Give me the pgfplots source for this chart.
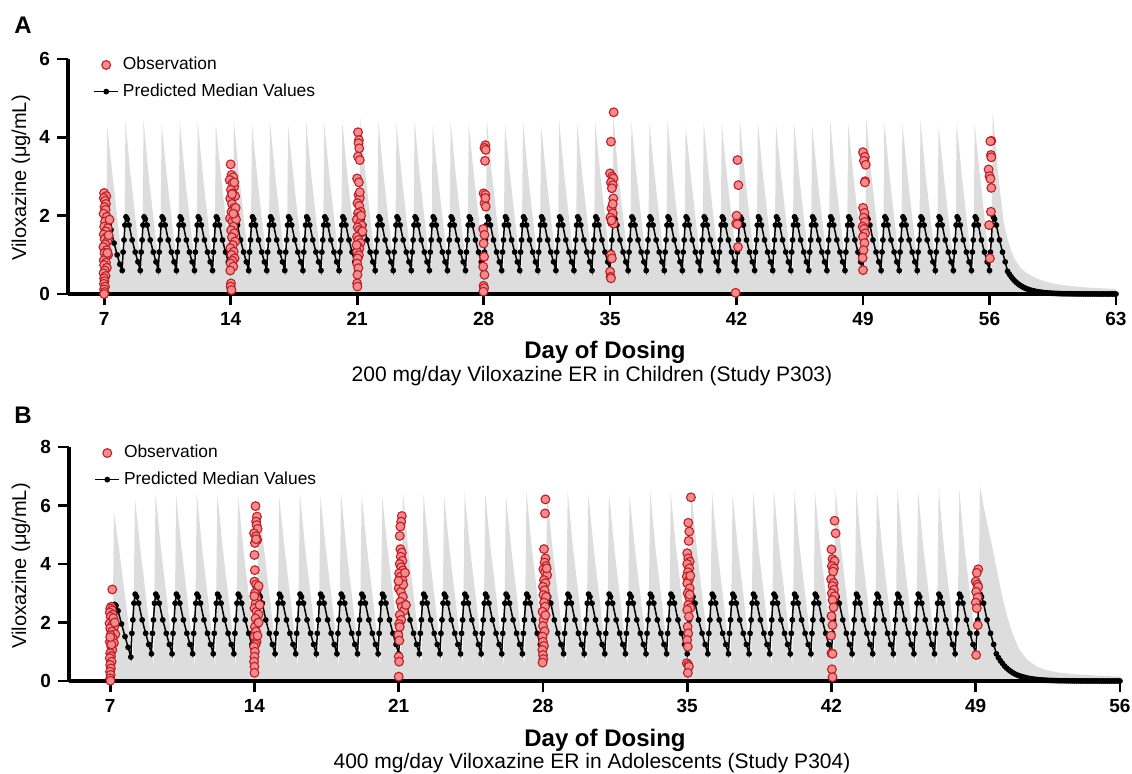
\documentclass[border=0pt]{standalone}
\usepackage{pgfplots}
\pgfplotsset{compat=1.18}
\usepackage{fontspec}
\setmainfont{Liberation Sans}
\definecolor{bandgray}{RGB}{221,221,221}
\definecolor{obsfill}{RGB}{242,140,140}
\definecolor{obsedge}{RGB}{190,30,40}
\pgfplotsset{
  pkaxis/.style={
    scale only axis,
    axis on top,
    axis x line*=bottom, axis y line*=left,
    axis line style={line width=1.6pt},
    tick align=outside,
    major tick length=5.5pt,
    tick style={line width=1.4pt, black},
    ymin=0, xmin=5,
    clip=false,
    /pgf/number format/assume math mode=true,
    ticklabel style={font=\fontsize{9.5}{11}\selectfont\bfseries},
    legend image code/.code={\draw[mark repeat=2,mark phase=2,##1] plot coordinates {(0pt,0pt)(6pt,0pt)(12pt,0pt)};},
    legend style={draw=none, fill=none, anchor=north west, font=\fontsize{8.7}{10}\selectfont, row sep=1.5pt, inner sep=1pt},
    legend cell align=left,
  },
  obs/.style={only marks, mark=*, mark size=2.2pt, mark options={fill=obsfill, draw=obsedge, line width=0.55pt}},
  med/.style={black, line width=0.75pt, mark=*, mark size=1.05pt},
}
\begin{document}
\begin{tikzpicture}
\useasboundingbox (0,0) rectangle (566pt,-386.5pt);
% ---------------- Panel A ----------------
\begin{axis}[pkaxis, at={(34pt,-147pt)}, anchor=south west,
  width=524pt, height=117.5pt, xmax=63, ymax=6,
  xtick={7,14,21,28,35,42,49,56,63}, ytick={0,2,4,6},
  legend style={at={(axis description cs:0.022,1.035)}}]
\addlegendimage{obs}
\addlegendentry{Observation}
\addlegendimage{med}
\addlegendentry{Predicted Median Values}
\addplot[fill=bandgray, draw=none, forget plot] coordinates {
(7,0)(7.1,.45)(7.17,4.25)(7.45,3.1)(7.75,1.85)(7.98,.95)
(8.1,.45)(8.18,4.4)(8.45,3.1)(8.75,1.85)(8.98,.95)
(9.1,.45)(9.18,4.45)(9.45,3.1)(9.75,1.85)(9.98,.95)
(10.1,.45)(10.18,4.35)(10.45,3.1)(10.75,1.85)(10.98,.95)
(11.1,.45)(11.18,4.45)(11.45,3.1)(11.75,1.85)(11.98,.95)
(12.1,.45)(12.18,4.4)(12.45,3.1)(12.75,1.85)(12.98,.95)
(13.1,.45)(13.18,4.35)(13.45,3.1)(13.75,1.85)(13.98,.95)
(14.1,.45)(14.18,4.45)(14.45,3.1)(14.75,1.85)(14.98,.95)
(15.1,.45)(15.18,4.35)(15.45,3.1)(15.75,1.85)(15.98,.95)
(16.1,.45)(16.18,4.4)(16.45,3.1)(16.75,1.85)(16.98,.95)
(17.1,.45)(17.18,4.3)(17.45,3.1)(17.75,1.85)(17.98,.95)
(18.1,.45)(18.18,4.4)(18.45,3.1)(18.75,1.85)(18.98,.95)
(19.1,.45)(19.18,4.35)(19.45,3.1)(19.75,1.85)(19.98,.95)
(20.1,.45)(20.18,4.4)(20.45,3.1)(20.75,1.85)(20.98,.95)
(21.1,.45)(21.18,4.5)(21.45,3.1)(21.75,1.85)(21.98,.95)
(22.1,.45)(22.18,4.4)(22.45,3.1)(22.75,1.85)(22.98,.95)
(23.1,.45)(23.18,4.35)(23.45,3.1)(23.75,1.85)(23.98,.95)
(24.1,.45)(24.18,4.45)(24.45,3.1)(24.75,1.85)(24.98,.95)
(25.1,.45)(25.18,4.3)(25.45,3.1)(25.75,1.85)(25.98,.95)
(26.1,.45)(26.18,4.4)(26.45,3.1)(26.75,1.85)(26.98,.95)
(27.1,.45)(27.18,4.35)(27.45,3.1)(27.75,1.85)(27.98,.95)
(28.1,.45)(28.18,4.45)(28.45,3.1)(28.75,1.85)(28.98,.95)
(29.1,.45)(29.18,4.35)(29.45,3.1)(29.75,1.85)(29.98,.95)
(30.1,.45)(30.18,4.4)(30.45,3.1)(30.75,1.85)(30.98,.95)
(31.1,.45)(31.18,4.3)(31.45,3.1)(31.75,1.85)(31.98,.95)
(32.1,.45)(32.18,4.45)(32.45,3.1)(32.75,1.85)(32.98,.95)
(33.1,.45)(33.18,4.35)(33.45,3.1)(33.75,1.85)(33.98,.95)
(34.1,.45)(34.18,4.4)(34.45,3.1)(34.75,1.85)(34.98,.95)
(35.1,.45)(35.18,4.55)(35.45,3.1)(35.75,1.85)(35.98,.95)
(36.1,.45)(36.18,4.4)(36.45,3.1)(36.75,1.85)(36.98,.95)
(37.1,.45)(37.18,4.35)(37.45,3.1)(37.75,1.85)(37.98,.95)
(38.1,.45)(38.18,4.45)(38.45,3.1)(38.75,1.85)(38.98,.95)
(39.1,.45)(39.18,4.3)(39.45,3.1)(39.75,1.85)(39.98,.95)
(40.1,.45)(40.18,4.4)(40.45,3.1)(40.75,1.85)(40.98,.95)
(41.1,.45)(41.18,4.35)(41.45,3.1)(41.75,1.85)(41.98,.95)
(42.1,.45)(42.18,4.45)(42.45,3.1)(42.75,1.85)(42.98,.95)
(43.1,.45)(43.18,4.4)(43.45,3.1)(43.75,1.85)(43.98,.95)
(44.1,.45)(44.18,4.35)(44.45,3.1)(44.75,1.85)(44.98,.95)
(45.1,.45)(45.18,4.4)(45.45,3.1)(45.75,1.85)(45.98,.95)
(46.1,.45)(46.18,4.3)(46.45,3.1)(46.75,1.85)(46.98,.95)
(47.1,.45)(47.18,4.45)(47.45,3.1)(47.75,1.85)(47.98,.95)
(48.1,.45)(48.18,4.35)(48.45,3.1)(48.75,1.85)(48.98,.95)
(49.1,.45)(49.18,4.5)(49.45,3.1)(49.75,1.85)(49.98,.95)
(50.1,.45)(50.18,4.4)(50.45,3.1)(50.75,1.85)(50.98,.95)
(51.1,.45)(51.18,4.35)(51.45,3.1)(51.75,1.85)(51.98,.95)
(52.1,.45)(52.18,4.45)(52.45,3.1)(52.75,1.85)(52.98,.95)
(53.1,.45)(53.18,4.3)(53.45,3.1)(53.75,1.85)(53.98,.95)
(54.1,.45)(54.18,4.4)(54.45,3.1)(54.75,1.85)(54.98,.95)
(55.1,.45)(55.18,4.35)(55.45,3.1)(55.75,1.85)(55.98,.95)
(56.1,.45)(56.18,4.65)(56.3,4.0)(56.45,3.2)(56.6,2.55)(56.8,1.8)(57,1.4)(57.2,1.1)(57.4,.88)(57.7,.68)(58,.55)(58.5,.42)(59,.33)(59.5,.27)(60,.23)(61,.18)(62,.15)(63,.13)
} \closedcycle;
\addplot[med, forget plot] coordinates {
(7,0)(7.05,.9)(7.1,1.35)(7.15,1.72)(7.21,1.8)(7.28,1.76)(7.38,1.64)(7.55,1.3)(7.72,1.0)(7.87,.76)
(8,.6)(8.05,1.07)(8.1,1.38)(8.15,1.76)(8.21,1.97)(8.28,1.91)(8.38,1.76)(8.55,1.38)(8.72,1.07)(8.87,.82)
(9,.6)(9.05,1.07)(9.1,1.38)(9.15,1.76)(9.21,1.97)(9.28,1.91)(9.38,1.76)(9.55,1.38)(9.72,1.07)(9.87,.82)
(10,.6)(10.05,1.07)(10.1,1.38)(10.15,1.76)(10.21,1.97)(10.28,1.91)(10.38,1.76)(10.55,1.38)(10.72,1.07)(10.87,.82)
(11,.6)(11.05,1.07)(11.1,1.38)(11.15,1.76)(11.21,1.97)(11.28,1.91)(11.38,1.76)(11.55,1.38)(11.72,1.07)(11.87,.82)
(12,.6)(12.05,1.07)(12.1,1.38)(12.15,1.76)(12.21,1.97)(12.28,1.91)(12.38,1.76)(12.55,1.38)(12.72,1.07)(12.87,.82)
(13,.6)(13.05,1.07)(13.1,1.38)(13.15,1.76)(13.21,1.97)(13.28,1.91)(13.38,1.76)(13.55,1.38)(13.72,1.07)(13.87,.82)
(14,.6)(14.05,1.07)(14.1,1.38)(14.15,1.76)(14.21,1.97)(14.28,1.91)(14.38,1.76)(14.55,1.38)(14.72,1.07)(14.87,.82)
(15,.6)(15.05,1.07)(15.1,1.38)(15.15,1.76)(15.21,1.97)(15.28,1.91)(15.38,1.76)(15.55,1.38)(15.72,1.07)(15.87,.82)
(16,.6)(16.05,1.07)(16.1,1.38)(16.15,1.76)(16.21,1.97)(16.28,1.91)(16.38,1.76)(16.55,1.38)(16.72,1.07)(16.87,.82)
(17,.6)(17.05,1.07)(17.1,1.38)(17.15,1.76)(17.21,1.97)(17.28,1.91)(17.38,1.76)(17.55,1.38)(17.72,1.07)(17.87,.82)
(18,.6)(18.05,1.07)(18.1,1.38)(18.15,1.76)(18.21,1.97)(18.28,1.91)(18.38,1.76)(18.55,1.38)(18.72,1.07)(18.87,.82)
(19,.6)(19.05,1.07)(19.1,1.38)(19.15,1.76)(19.21,1.97)(19.28,1.91)(19.38,1.76)(19.55,1.38)(19.72,1.07)(19.87,.82)
(20,.6)(20.05,1.07)(20.1,1.38)(20.15,1.76)(20.21,1.97)(20.28,1.91)(20.38,1.76)(20.55,1.38)(20.72,1.07)(20.87,.82)
(21,.6)(21.05,1.07)(21.1,1.38)(21.15,1.76)(21.21,1.97)(21.28,1.91)(21.38,1.76)(21.55,1.38)(21.72,1.07)(21.87,.82)
(22,.6)(22.05,1.07)(22.1,1.38)(22.15,1.76)(22.21,1.97)(22.28,1.91)(22.38,1.76)(22.55,1.38)(22.72,1.07)(22.87,.82)
(23,.6)(23.05,1.07)(23.1,1.38)(23.15,1.76)(23.21,1.97)(23.28,1.91)(23.38,1.76)(23.55,1.38)(23.72,1.07)(23.87,.82)
(24,.6)(24.05,1.07)(24.1,1.38)(24.15,1.76)(24.21,1.97)(24.28,1.91)(24.38,1.76)(24.55,1.38)(24.72,1.07)(24.87,.82)
(25,.6)(25.05,1.07)(25.1,1.38)(25.15,1.76)(25.21,1.97)(25.28,1.91)(25.38,1.76)(25.55,1.38)(25.72,1.07)(25.87,.82)
(26,.6)(26.05,1.07)(26.1,1.38)(26.15,1.76)(26.21,1.97)(26.28,1.91)(26.38,1.76)(26.55,1.38)(26.72,1.07)(26.87,.82)
(27,.6)(27.05,1.07)(27.1,1.38)(27.15,1.76)(27.21,1.97)(27.28,1.91)(27.38,1.76)(27.55,1.38)(27.72,1.07)(27.87,.82)
(28,.6)(28.05,1.07)(28.1,1.38)(28.15,1.76)(28.21,1.97)(28.28,1.91)(28.38,1.76)(28.55,1.38)(28.72,1.07)(28.87,.82)
(29,.6)(29.05,1.07)(29.1,1.38)(29.15,1.76)(29.21,1.97)(29.28,1.91)(29.38,1.76)(29.55,1.38)(29.72,1.07)(29.87,.82)
(30,.6)(30.05,1.07)(30.1,1.38)(30.15,1.76)(30.21,1.97)(30.28,1.91)(30.38,1.76)(30.55,1.38)(30.72,1.07)(30.87,.82)
(31,.6)(31.05,1.07)(31.1,1.38)(31.15,1.76)(31.21,1.97)(31.28,1.91)(31.38,1.76)(31.55,1.38)(31.72,1.07)(31.87,.82)
(32,.6)(32.05,1.07)(32.1,1.38)(32.15,1.76)(32.21,1.97)(32.28,1.91)(32.38,1.76)(32.55,1.38)(32.72,1.07)(32.87,.82)
(33,.6)(33.05,1.07)(33.1,1.38)(33.15,1.76)(33.21,1.97)(33.28,1.91)(33.38,1.76)(33.55,1.38)(33.72,1.07)(33.87,.82)
(34,.6)(34.05,1.07)(34.1,1.38)(34.15,1.76)(34.21,1.97)(34.28,1.91)(34.38,1.76)(34.55,1.38)(34.72,1.07)(34.87,.82)
(35,.6)(35.05,1.07)(35.1,1.38)(35.15,1.76)(35.21,1.97)(35.28,1.91)(35.38,1.76)(35.55,1.38)(35.72,1.07)(35.87,.82)
(36,.6)(36.05,1.07)(36.1,1.38)(36.15,1.76)(36.21,1.97)(36.28,1.91)(36.38,1.76)(36.55,1.38)(36.72,1.07)(36.87,.82)
(37,.6)(37.05,1.07)(37.1,1.38)(37.15,1.76)(37.21,1.97)(37.28,1.91)(37.38,1.76)(37.55,1.38)(37.72,1.07)(37.87,.82)
(38,.6)(38.05,1.07)(38.1,1.38)(38.15,1.76)(38.21,1.97)(38.28,1.91)(38.38,1.76)(38.55,1.38)(38.72,1.07)(38.87,.82)
(39,.6)(39.05,1.07)(39.1,1.38)(39.15,1.76)(39.21,1.97)(39.28,1.91)(39.38,1.76)(39.55,1.38)(39.72,1.07)(39.87,.82)
(40,.6)(40.05,1.07)(40.1,1.38)(40.15,1.76)(40.21,1.97)(40.28,1.91)(40.38,1.76)(40.55,1.38)(40.72,1.07)(40.87,.82)
(41,.6)(41.05,1.07)(41.1,1.38)(41.15,1.76)(41.21,1.97)(41.28,1.91)(41.38,1.76)(41.55,1.38)(41.72,1.07)(41.87,.82)
(42,.6)(42.05,1.07)(42.1,1.38)(42.15,1.76)(42.21,1.97)(42.28,1.91)(42.38,1.76)(42.55,1.38)(42.72,1.07)(42.87,.82)
(43,.6)(43.05,1.07)(43.1,1.38)(43.15,1.76)(43.21,1.97)(43.28,1.91)(43.38,1.76)(43.55,1.38)(43.72,1.07)(43.87,.82)
(44,.6)(44.05,1.07)(44.1,1.38)(44.15,1.76)(44.21,1.97)(44.28,1.91)(44.38,1.76)(44.55,1.38)(44.72,1.07)(44.87,.82)
(45,.6)(45.05,1.07)(45.1,1.38)(45.15,1.76)(45.21,1.97)(45.28,1.91)(45.38,1.76)(45.55,1.38)(45.72,1.07)(45.87,.82)
(46,.6)(46.05,1.07)(46.1,1.38)(46.15,1.76)(46.21,1.97)(46.28,1.91)(46.38,1.76)(46.55,1.38)(46.72,1.07)(46.87,.82)
(47,.6)(47.05,1.07)(47.1,1.38)(47.15,1.76)(47.21,1.97)(47.28,1.91)(47.38,1.76)(47.55,1.38)(47.72,1.07)(47.87,.82)
(48,.6)(48.05,1.07)(48.1,1.38)(48.15,1.76)(48.21,1.97)(48.28,1.91)(48.38,1.76)(48.55,1.38)(48.72,1.07)(48.87,.82)
(49,.6)(49.05,1.07)(49.1,1.38)(49.15,1.76)(49.21,1.97)(49.28,1.91)(49.38,1.76)(49.55,1.38)(49.72,1.07)(49.87,.82)
(50,.6)(50.05,1.07)(50.1,1.38)(50.15,1.76)(50.21,1.97)(50.28,1.91)(50.38,1.76)(50.55,1.38)(50.72,1.07)(50.87,.82)
(51,.6)(51.05,1.07)(51.1,1.38)(51.15,1.76)(51.21,1.97)(51.28,1.91)(51.38,1.76)(51.55,1.38)(51.72,1.07)(51.87,.82)
(52,.6)(52.05,1.07)(52.1,1.38)(52.15,1.76)(52.21,1.97)(52.28,1.91)(52.38,1.76)(52.55,1.38)(52.72,1.07)(52.87,.82)
(53,.6)(53.05,1.07)(53.1,1.38)(53.15,1.76)(53.21,1.97)(53.28,1.91)(53.38,1.76)(53.55,1.38)(53.72,1.07)(53.87,.82)
(54,.6)(54.05,1.07)(54.1,1.38)(54.15,1.76)(54.21,1.97)(54.28,1.91)(54.38,1.76)(54.55,1.38)(54.72,1.07)(54.87,.82)
(55,.6)(55.05,1.07)(55.1,1.38)(55.15,1.76)(55.21,1.97)(55.28,1.91)(55.38,1.76)(55.55,1.38)(55.72,1.07)(55.87,.82)
(56,.6)(56.05,1.07)(56.1,1.38)(56.15,1.76)(56.21,1.97)(56.28,1.91)(56.38,1.76)(56.55,1.38)(56.72,1.07)(56.87,.82)
(57,.58)(57.1,.505)(57.2,.44)(57.3,.383)(57.4,.333)(57.5,.29)(57.6,.252)(57.7,.22)(57.8,.191)(57.9,.166)
(58,.145)(58.1,.126)(58.2,.11)(58.3,.096)(58.4,.083)(58.5,.073)(58.6,.063)(58.7,.055)(58.8,.048)(58.9,.042)
(59,.036)(59.1,.032)(59.2,.027)(59.3,.024)(59.4,.021)(59.5,.018)(59.6,.016)(59.7,.014)(59.8,.012)(59.9,.01)
(60,.009)(60.1,.008)(60.2,.007)(60.3,.006)(60.4,.006)(60.5,.005)(60.6,.005)(60.7,.004)(60.8,.004)(60.9,.004)
(61,.003)(61.1,.003)(61.2,.003)(61.3,.003)(61.4,.002)(61.5,.002)(61.6,.002)(61.7,.002)(61.8,.002)(61.9,.002)
(62,.002)(62.1,.001)(62.2,.001)(62.3,.001)(62.4,.001)(62.5,.001)(62.6,.001)(62.7,.001)(62.8,.001)(62.9,.001)(63,.001)
};
\addplot[obs, forget plot] coordinates {
(7.0,2.58)(7.12,2.5)(6.98,2.45)(7.05,2.38)(7.1,2.3)(7.02,2.22)(7.08,2.15)(6.97,2.05)(7.15,1.97)(7.05,1.85)
(7.0,1.72)(7.2,1.68)(7.1,1.6)(6.98,1.52)(7.12,1.45)(7.03,1.4)(7.18,1.34)(7.06,1.27)(6.96,1.2)(7.14,1.12)
(7.02,1.05)(7.22,1.0)(7.08,.93)(6.98,.86)(7.1,.8)(7.0,.74)(7.15,.67)(7.04,.6)(6.97,.53)(7.08,.46)
(7.0,.4)(7.02,.33)(6.99,.26)(7.05,.19)(7.0,.12)(7.02,.05)(7.0,0)(7.25,1.5)(7.3,1.9)(7.18,1.05)
(14.0,3.31)(14.05,3.04)(14.15,2.98)(13.95,2.91)(14.1,2.83)(14.2,2.74)(14.02,2.66)(14.12,2.57)(14.25,2.5)(13.98,2.44)
(14.08,2.3)(14.18,2.19)(14.05,2.1)(14.22,2.02)(13.97,1.93)(14.1,1.85)(14.3,1.9)(14.15,1.72)(14.03,1.63)(14.2,1.55)
(14.07,1.45)(14.25,1.34)(14.12,1.25)(13.99,1.17)(14.17,1.08)(14.05,1.0)(14.22,.91)(14.1,.85)(14.0,.78)(14.15,.7)
(13.98,.6)(14.02,.27)(14.0,.19)(14.05,.1)(14.28,2.2)(14.08,2.55)(14.2,2.85)(14.15,2.05)
(21.05,4.13)(21.1,3.93)(21.08,3.85)(21.12,3.72)(21.05,3.51)(21.15,3.42)(21.0,2.95)(21.1,2.85)(21.08,2.53)(21.15,2.45)
(21.02,2.32)(21.12,2.25)(21.2,2.1)(21.05,2.06)(21.1,1.97)(20.98,1.9)(21.15,1.8)(21.25,1.75)(21.03,1.7)(21.12,1.63)
(21.2,1.55)(21.0,1.46)(21.08,1.38)(21.18,1.3)(21.05,1.21)(21.12,1.15)(21.0,1.08)(21.1,.99)(21.03,.91)(21.0,.78)
(21.07,.66)(21.02,.49)(21.0,.27)(21.02,.19)(21.3,1.6)(21.22,2.0)(20.97,1.25)(21.15,2.6)
(28.1,3.8)(28.05,3.73)(28.12,3.68)(28.08,3.4)(28.0,2.57)(28.1,2.53)(28.05,2.32)(28.12,2.23)(27.98,1.66)(28.05,1.51)
(28.0,1.29)(28.03,.95)(27.98,.7)(28.05,.49)(28.0,.21)(28.03,.15)(27.99,.06)(28.1,2.45)
(35.2,4.64)(35.05,3.89)(35.0,3.08)(35.12,3.0)(35.18,2.95)(35.05,2.85)(35.15,2.78)(35.1,2.7)(35.18,2.44)(35.08,2.19)
(35.15,2.06)(35.02,1.95)(35.1,1.83)(35.2,1.8)(35.05,1.0)(35.1,.91)(35.0,.57)(35.03,.44)(35.05,.4)(35.15,2.3)(35.08,1.88)
(42.05,3.42)(42.1,2.78)(42.0,2.0)(41.98,1.8)(42.08,1.2)(41.95,.03)(42.05,1.78)
(49.0,3.62)(49.1,3.5)(49.05,3.4)(49.15,3.3)(49.12,2.88)(49.0,2.2)(49.08,2.07)(49.03,1.95)(49.1,1.84)(48.98,1.72)
(49.05,1.66)(49.12,1.55)(49.0,1.46)(49.08,1.3)(49.03,1.12)(48.98,.92)(49.0,.61)(49.1,2.85)
(56.1,3.91)(56.05,3.9)(56.08,3.55)(56.1,3.49)(55.95,3.18)(56.0,3.01)(56.05,2.94)(56.1,2.71)(56.08,2.1)(55.98,1.76)(56.02,.91)
};
\end{axis}
% ---------------- Panel B ----------------
\begin{axis}[pkaxis, at={(34.5pt,-340.5pt)}, anchor=south west,
  width=525.5pt, height=117pt, xmax=56, ymax=8,
  xtick={7,14,21,28,35,42,49,56}, ytick={0,2,4,6,8},
  legend style={at={(axis description cs:0.022,1.035)}}]
\addlegendimage{obs}
\addlegendentry{Observation}
\addlegendimage{med}
\addlegendentry{Predicted Median Values}
\addplot[fill=bandgray, draw=none, forget plot] coordinates {
(7,0)(7.1,.45)(7.18,5.8)(7.45,4.4)(7.75,2.75)(7.98,1.4)
(8.1,.45)(8.2,6.25)(8.45,4.6)(8.75,2.8)(8.98,1.4)
(9.1,.45)(9.2,6.45)(9.45,4.6)(9.75,2.8)(9.98,1.4)
(10.1,.45)(10.2,6.35)(10.45,4.6)(10.75,2.8)(10.98,1.4)
(11.1,.45)(11.2,6.45)(11.45,4.6)(11.75,2.8)(11.98,1.4)
(12.1,.45)(12.2,6.4)(12.45,4.6)(12.75,2.8)(12.98,1.4)
(13.1,.45)(13.2,6.35)(13.45,4.6)(13.75,2.8)(13.98,1.4)
(14.1,.45)(14.2,6.4)(14.45,4.6)(14.75,2.8)(14.98,1.4)
(15.1,.45)(15.2,6.3)(15.45,4.6)(15.75,2.8)(15.98,1.4)
(16.1,.45)(16.2,6.45)(16.45,4.6)(16.75,2.8)(16.98,1.4)
(17.1,.45)(17.2,6.35)(17.45,4.6)(17.75,2.8)(17.98,1.4)
(18.1,.45)(18.2,6.45)(18.45,4.6)(18.75,2.8)(18.98,1.4)
(19.1,.45)(19.2,6.4)(19.45,4.6)(19.75,2.8)(19.98,1.4)
(20.1,.45)(20.2,6.3)(20.45,4.6)(20.75,2.8)(20.98,1.4)
(21.1,.45)(21.2,6.5)(21.45,4.6)(21.75,2.8)(21.98,1.4)
(22.1,.45)(22.2,6.4)(22.45,4.6)(22.75,2.8)(22.98,1.4)
(23.1,.45)(23.2,6.35)(23.45,4.6)(23.75,2.8)(23.98,1.4)
(24.1,.45)(24.2,6.45)(24.45,4.6)(24.75,2.8)(24.98,1.4)
(25.1,.45)(25.2,6.4)(25.45,4.6)(25.75,2.8)(25.98,1.4)
(26.1,.45)(26.2,6.35)(26.45,4.6)(26.75,2.8)(26.98,1.4)
(27.1,.45)(27.2,6.5)(27.45,4.6)(27.75,2.8)(27.98,1.4)
(28.1,.45)(28.2,6.45)(28.45,4.6)(28.75,2.8)(28.98,1.4)
(29.1,.45)(29.2,6.5)(29.45,4.6)(29.75,2.8)(29.98,1.4)
(30.1,.45)(30.2,6.4)(30.45,4.6)(30.75,2.8)(30.98,1.4)
(31.1,.45)(31.2,6.45)(31.45,4.6)(31.75,2.8)(31.98,1.4)
(32.1,.45)(32.2,6.35)(32.45,4.6)(32.75,2.8)(32.98,1.4)
(33.1,.45)(33.2,6.5)(33.45,4.6)(33.75,2.8)(33.98,1.4)
(34.1,.45)(34.2,6.45)(34.45,4.6)(34.75,2.8)(34.98,1.4)
(35.1,.45)(35.2,6.55)(35.45,4.6)(35.75,2.8)(35.98,1.4)
(36.1,.45)(36.2,6.5)(36.45,4.6)(36.75,2.8)(36.98,1.4)
(37.1,.45)(37.2,6.4)(37.45,4.6)(37.75,2.8)(37.98,1.4)
(38.1,.45)(38.2,6.45)(38.45,4.6)(38.75,2.8)(38.98,1.4)
(39.1,.45)(39.2,6.55)(39.45,4.6)(39.75,2.8)(39.98,1.4)
(40.1,.45)(40.2,6.5)(40.45,4.6)(40.75,2.8)(40.98,1.4)
(41.1,.45)(41.2,6.45)(41.45,4.6)(41.75,2.8)(41.98,1.4)
(42.1,.45)(42.2,6.6)(42.45,4.6)(42.75,2.8)(42.98,1.4)
(43.1,.45)(43.2,6.5)(43.45,4.6)(43.75,2.8)(43.98,1.4)
(44.1,.45)(44.2,6.55)(44.45,4.6)(44.75,2.8)(44.98,1.4)
(45.1,.45)(45.2,6.6)(45.45,4.6)(45.75,2.8)(45.98,1.4)
(46.1,.45)(46.2,6.5)(46.45,4.6)(46.75,2.8)(46.98,1.4)
(47.1,.45)(47.2,6.6)(47.45,4.6)(47.75,2.8)(47.98,1.4)
(48.1,.45)(48.2,6.55)(48.45,4.6)(48.75,2.8)(48.98,1.4)
(49.1,.45)(49.2,6.7)(49.35,6.1)(49.55,5.4)(49.8,4.6)(50.05,3.7)(50.3,2.85)(50.55,2.15)(50.8,1.6)(51.1,1.1)(51.5,.72)(52,.48)(52.5,.36)(53,.29)(54,.22)(55,.18)(56,.15)
} \closedcycle;
\addplot[med, forget plot] coordinates {
(7,0)(7.05,1.0)(7.1,1.7)(7.15,2.3)(7.21,2.62)(7.28,2.58)(7.38,2.4)(7.55,1.95)(7.72,1.52)(7.87,1.15)
(8,.82)(8.05,1.63)(8.1,2.09)(8.15,2.66)(8.21,2.97)(8.28,2.88)(8.38,2.66)(8.55,2.09)(8.72,1.63)(8.87,1.25)
(9,.93)(9.05,1.63)(9.1,2.09)(9.15,2.66)(9.21,2.97)(9.28,2.88)(9.38,2.66)(9.55,2.09)(9.72,1.63)(9.87,1.25)
(10,.93)(10.05,1.63)(10.1,2.09)(10.15,2.66)(10.21,2.97)(10.28,2.88)(10.38,2.66)(10.55,2.09)(10.72,1.63)(10.87,1.25)
(11,.93)(11.05,1.63)(11.1,2.09)(11.15,2.66)(11.21,2.97)(11.28,2.88)(11.38,2.66)(11.55,2.09)(11.72,1.63)(11.87,1.25)
(12,.93)(12.05,1.63)(12.1,2.09)(12.15,2.66)(12.21,2.97)(12.28,2.88)(12.38,2.66)(12.55,2.09)(12.72,1.63)(12.87,1.25)
(13,.93)(13.05,1.63)(13.1,2.09)(13.15,2.66)(13.21,2.97)(13.28,2.88)(13.38,2.66)(13.55,2.09)(13.72,1.63)(13.87,1.25)
(14,.93)(14.05,1.63)(14.1,2.09)(14.15,2.66)(14.21,2.97)(14.28,2.88)(14.38,2.66)(14.55,2.09)(14.72,1.63)(14.87,1.25)
(15,.93)(15.05,1.63)(15.1,2.09)(15.15,2.66)(15.21,2.97)(15.28,2.88)(15.38,2.66)(15.55,2.09)(15.72,1.63)(15.87,1.25)
(16,.93)(16.05,1.63)(16.1,2.09)(16.15,2.66)(16.21,2.97)(16.28,2.88)(16.38,2.66)(16.55,2.09)(16.72,1.63)(16.87,1.25)
(17,.93)(17.05,1.63)(17.1,2.09)(17.15,2.66)(17.21,2.97)(17.28,2.88)(17.38,2.66)(17.55,2.09)(17.72,1.63)(17.87,1.25)
(18,.93)(18.05,1.63)(18.1,2.09)(18.15,2.66)(18.21,2.97)(18.28,2.88)(18.38,2.66)(18.55,2.09)(18.72,1.63)(18.87,1.25)
(19,.93)(19.05,1.63)(19.1,2.09)(19.15,2.66)(19.21,2.97)(19.28,2.88)(19.38,2.66)(19.55,2.09)(19.72,1.63)(19.87,1.25)
(20,.93)(20.05,1.63)(20.1,2.09)(20.15,2.66)(20.21,2.97)(20.28,2.88)(20.38,2.66)(20.55,2.09)(20.72,1.63)(20.87,1.25)
(21,.93)(21.05,1.63)(21.1,2.09)(21.15,2.66)(21.21,2.97)(21.28,2.88)(21.38,2.66)(21.55,2.09)(21.72,1.63)(21.87,1.25)
(22,.93)(22.05,1.63)(22.1,2.09)(22.15,2.66)(22.21,2.97)(22.28,2.88)(22.38,2.66)(22.55,2.09)(22.72,1.63)(22.87,1.25)
(23,.93)(23.05,1.63)(23.1,2.09)(23.15,2.66)(23.21,2.97)(23.28,2.88)(23.38,2.66)(23.55,2.09)(23.72,1.63)(23.87,1.25)
(24,.93)(24.05,1.63)(24.1,2.09)(24.15,2.66)(24.21,2.97)(24.28,2.88)(24.38,2.66)(24.55,2.09)(24.72,1.63)(24.87,1.25)
(25,.93)(25.05,1.63)(25.1,2.09)(25.15,2.66)(25.21,2.97)(25.28,2.88)(25.38,2.66)(25.55,2.09)(25.72,1.63)(25.87,1.25)
(26,.93)(26.05,1.63)(26.1,2.09)(26.15,2.66)(26.21,2.97)(26.28,2.88)(26.38,2.66)(26.55,2.09)(26.72,1.63)(26.87,1.25)
(27,.93)(27.05,1.63)(27.1,2.09)(27.15,2.66)(27.21,2.97)(27.28,2.88)(27.38,2.66)(27.55,2.09)(27.72,1.63)(27.87,1.25)
(28,.93)(28.05,1.63)(28.1,2.09)(28.15,2.66)(28.21,2.97)(28.28,2.88)(28.38,2.66)(28.55,2.09)(28.72,1.63)(28.87,1.25)
(29,.93)(29.05,1.63)(29.1,2.09)(29.15,2.66)(29.21,2.97)(29.28,2.88)(29.38,2.66)(29.55,2.09)(29.72,1.63)(29.87,1.25)
(30,.93)(30.05,1.63)(30.1,2.09)(30.15,2.66)(30.21,2.97)(30.28,2.88)(30.38,2.66)(30.55,2.09)(30.72,1.63)(30.87,1.25)
(31,.93)(31.05,1.63)(31.1,2.09)(31.15,2.66)(31.21,2.97)(31.28,2.88)(31.38,2.66)(31.55,2.09)(31.72,1.63)(31.87,1.25)
(32,.93)(32.05,1.63)(32.1,2.09)(32.15,2.66)(32.21,2.97)(32.28,2.88)(32.38,2.66)(32.55,2.09)(32.72,1.63)(32.87,1.25)
(33,.93)(33.05,1.63)(33.1,2.09)(33.15,2.66)(33.21,2.97)(33.28,2.88)(33.38,2.66)(33.55,2.09)(33.72,1.63)(33.87,1.25)
(34,.93)(34.05,1.63)(34.1,2.09)(34.15,2.66)(34.21,2.97)(34.28,2.88)(34.38,2.66)(34.55,2.09)(34.72,1.63)(34.87,1.25)
(35,.93)(35.05,1.63)(35.1,2.09)(35.15,2.66)(35.21,2.97)(35.28,2.88)(35.38,2.66)(35.55,2.09)(35.72,1.63)(35.87,1.25)
(36,.93)(36.05,1.63)(36.1,2.09)(36.15,2.66)(36.21,2.97)(36.28,2.88)(36.38,2.66)(36.55,2.09)(36.72,1.63)(36.87,1.25)
(37,.93)(37.05,1.63)(37.1,2.09)(37.15,2.66)(37.21,2.97)(37.28,2.88)(37.38,2.66)(37.55,2.09)(37.72,1.63)(37.87,1.25)
(38,.93)(38.05,1.63)(38.1,2.09)(38.15,2.66)(38.21,2.97)(38.28,2.88)(38.38,2.66)(38.55,2.09)(38.72,1.63)(38.87,1.25)
(39,.93)(39.05,1.63)(39.1,2.09)(39.15,2.66)(39.21,2.97)(39.28,2.88)(39.38,2.66)(39.55,2.09)(39.72,1.63)(39.87,1.25)
(40,.93)(40.05,1.63)(40.1,2.09)(40.15,2.66)(40.21,2.97)(40.28,2.88)(40.38,2.66)(40.55,2.09)(40.72,1.63)(40.87,1.25)
(41,.93)(41.05,1.63)(41.1,2.09)(41.15,2.66)(41.21,2.97)(41.28,2.88)(41.38,2.66)(41.55,2.09)(41.72,1.63)(41.87,1.25)
(42,.93)(42.05,1.63)(42.1,2.09)(42.15,2.66)(42.21,2.97)(42.28,2.88)(42.38,2.66)(42.55,2.09)(42.72,1.63)(42.87,1.25)
(43,.93)(43.05,1.63)(43.1,2.09)(43.15,2.66)(43.21,2.97)(43.28,2.88)(43.38,2.66)(43.55,2.09)(43.72,1.63)(43.87,1.25)
(44,.93)(44.05,1.63)(44.1,2.09)(44.15,2.66)(44.21,2.97)(44.28,2.88)(44.38,2.66)(44.55,2.09)(44.72,1.63)(44.87,1.25)
(45,.93)(45.05,1.63)(45.1,2.09)(45.15,2.66)(45.21,2.97)(45.28,2.88)(45.38,2.66)(45.55,2.09)(45.72,1.63)(45.87,1.25)
(46,.93)(46.05,1.63)(46.1,2.09)(46.15,2.66)(46.21,2.97)(46.28,2.88)(46.38,2.66)(46.55,2.09)(46.72,1.63)(46.87,1.25)
(47,.93)(47.05,1.63)(47.1,2.09)(47.15,2.66)(47.21,2.97)(47.28,2.88)(47.38,2.66)(47.55,2.09)(47.72,1.63)(47.87,1.25)
(48,.93)(48.05,1.63)(48.1,2.09)(48.15,2.66)(48.21,2.97)(48.28,2.88)(48.38,2.66)(48.55,2.09)(48.72,1.63)(48.87,1.25)
(49,.93)(49.05,1.63)(49.1,2.09)(49.15,2.66)(49.21,2.97)(49.28,2.88)(49.38,2.66)(49.55,2.09)(49.72,1.63)(49.87,1.25)
(50,.93)(50.1,.8)(50.2,.69)(50.3,.6)(50.4,.51)(50.5,.44)(50.6,.38)(50.7,.33)(50.8,.28)(50.9,.24)
(51,.21)(51.1,.18)(51.2,.16)(51.3,.14)(51.4,.12)(51.5,.1)(51.6,.088)(51.7,.076)(51.8,.065)(51.9,.056)
(52,.049)(52.1,.042)(52.2,.036)(52.3,.031)(52.4,.027)(52.5,.023)(52.6,.02)(52.7,.017)(52.8,.015)(52.9,.013)
(53,.011)(53.1,.01)(53.2,.009)(53.3,.008)(53.4,.007)(53.5,.006)(53.6,.005)(53.7,.005)(53.8,.004)(53.9,.004)
(54,.003)(54.1,.003)(54.2,.003)(54.3,.003)(54.4,.002)(54.5,.002)(54.6,.002)(54.7,.002)(54.8,.002)(54.9,.002)
(55,.001)(55.1,.001)(55.2,.001)(55.3,.001)(55.4,.001)(55.5,.001)(55.6,.001)(55.7,.001)(55.8,.001)(55.9,.001)(56,.001)
};
\addplot[obs, forget plot] coordinates {
(7.1,3.13)(7.05,2.54)(7.0,2.48)(7.08,2.42)(6.98,2.34)(7.12,2.27)(7.02,2.2)(7.15,2.1)(7.05,2.03)(6.97,1.97)
(7.1,1.91)(7.2,1.87)(7.0,1.8)(7.08,1.69)(7.25,1.6)(7.02,1.57)(7.12,1.45)(6.98,1.34)(7.18,1.3)(7.05,1.17)
(7.1,1.06)(7.0,.95)(7.04,.85)(6.98,.78)(7.07,.66)(7.0,.55)(7.03,.43)(6.99,.32)(7.02,.21)(7.0,.09)
(7.01,.01)(7.15,2.15)(7.22,2.0)(7.06,1.25)(7.0,1.5)
(14.05,5.98)(14.12,5.62)(14.08,5.45)(14.1,5.33)(14.15,5.2)(13.98,5.05)(14.07,4.95)(14.13,4.82)(14.02,4.72)(14.0,4.31)
(14.02,3.79)(14.0,3.4)(14.08,3.3)(14.15,3.17)(14.02,3.0)(14.1,2.83)(14.05,2.66)(14.0,2.49)(14.1,2.37)(14.2,2.28)
(14.05,2.14)(14.15,1.97)(14.02,1.85)(14.08,1.69)(14.0,1.52)(14.1,1.34)(14.05,1.25)(13.98,1.17)(14.02,1.0)(14.0,.83)
(13.98,.66)(14.0,.49)(14.0,.28)(14.2,3.25)(14.25,2.6)(14.2,2.0)(14.15,1.55)(14.08,4.85)(13.99,2.9)
(21.15,5.64)(21.12,5.45)(21.08,5.28)(21.05,4.96)(21.08,4.51)(21.15,4.39)(21.1,4.25)(21.18,4.11)(21.05,4.0)(21.12,3.89)
(21.2,3.78)(21.02,3.68)(21.1,3.57)(21.18,3.45)(21.05,3.34)(21.15,3.25)(21.0,3.17)(21.1,3.05)(21.2,2.88)(21.08,2.71)
(21.15,2.54)(21.25,2.4)(21.05,2.26)(21.12,2.09)(21.02,1.95)(20.98,1.57)(21.03,1.38)(21.0,.83)(21.02,.66)(21.0,.15)
(21.3,3.7)(21.22,3.3)(21.35,2.6)(20.99,3.42)(21.05,1.85)
(28.12,6.21)(28.1,5.73)(28.05,4.51)(28.12,4.19)(28.08,4.05)(28.15,3.93)(28.02,3.82)(28.1,3.72)(28.2,3.62)(28.05,3.45)
(28.12,3.35)(28.0,3.22)(28.08,3.1)(28.02,2.94)(28.15,2.88)(28.05,2.68)(28.1,2.54)(27.98,2.37)(28.03,2.09)(28.0,1.88)
(28.08,1.7)(27.98,1.52)(28.0,1.34)(28.05,1.2)(27.97,1.06)(28.0,.89)(28.02,.75)(27.98,.63)(28.18,3.85)(28.12,2.25)
(35.18,6.28)(35.05,5.41)(35.1,5.11)(35.07,4.79)(35.0,4.37)(35.05,4.19)(35.12,4.08)(35.0,4.0)(35.1,3.85)(35.03,3.72)
(34.98,3.57)(35.08,3.45)(35.0,3.34)(35.12,3.17)(35.02,3.0)(35.1,2.86)(35.05,2.6)(35.15,2.5)(35.0,2.43)(35.08,2.2)
(35.02,1.86)(35.05,1.63)(35.0,1.4)(35.03,1.17)(34.98,.61)(35.05,.55)(35.08,.49)(35.03,.28)(35.15,3.6)(35.12,2.95)
(42.15,5.48)(42.2,5.05)(42.0,4.5)(42.05,4.17)(42.15,4.1)(42.02,3.93)(42.12,3.85)(42.08,3.74)(41.98,3.48)(42.1,3.35)
(42.05,3.25)(42.12,3.12)(42.02,3.0)(42.15,2.9)(42.05,2.77)(42.1,2.52)(42.0,2.22)(42.05,1.91)(41.98,1.55)(42.0,.95)
(42.05,.93)(42.02,.4)(42.05,.13)
(49.12,3.82)(49.05,3.7)(49.0,3.4)(49.08,3.3)(49.12,3.22)(49.02,3.05)(49.1,2.86)(49.0,2.68)(49.05,2.49)(49.1,1.91)(49.02,.89)
};
\end{axis}
% ---------------- labels ----------------
\node[font=\fontsize{12}{14}\selectfont\bfseries] at (11.5pt,-12.5pt) {A};
\node[font=\fontsize{12}{14}\selectfont\bfseries] at (11.5pt,-207.5pt) {B};
\node[rotate=90, font=\fontsize{10}{12}\selectfont] at (10.5pt,-89pt) {Viloxazine (μg/mL)};
\node[rotate=90, font=\fontsize{10}{12}\selectfont] at (10.5pt,-283pt) {Viloxazine (μg/mL)};
\node[font=\fontsize{12}{14}\selectfont\bfseries] at (302.5pt,-176pt) {Day of Dosing};
\node[font=\fontsize{10.5}{12}\selectfont] at (296pt,-188pt) {200 mg/day Viloxazine ER in Children (Study P303)};
\node[font=\fontsize{12}{14}\selectfont\bfseries] at (302.5pt,-370pt) {Day of Dosing};
\node[font=\fontsize{10.5}{12}\selectfont] at (296pt,-381.5pt) {400 mg/day Viloxazine ER in Adolescents (Study P304)};
\end{tikzpicture}
\end{document}
